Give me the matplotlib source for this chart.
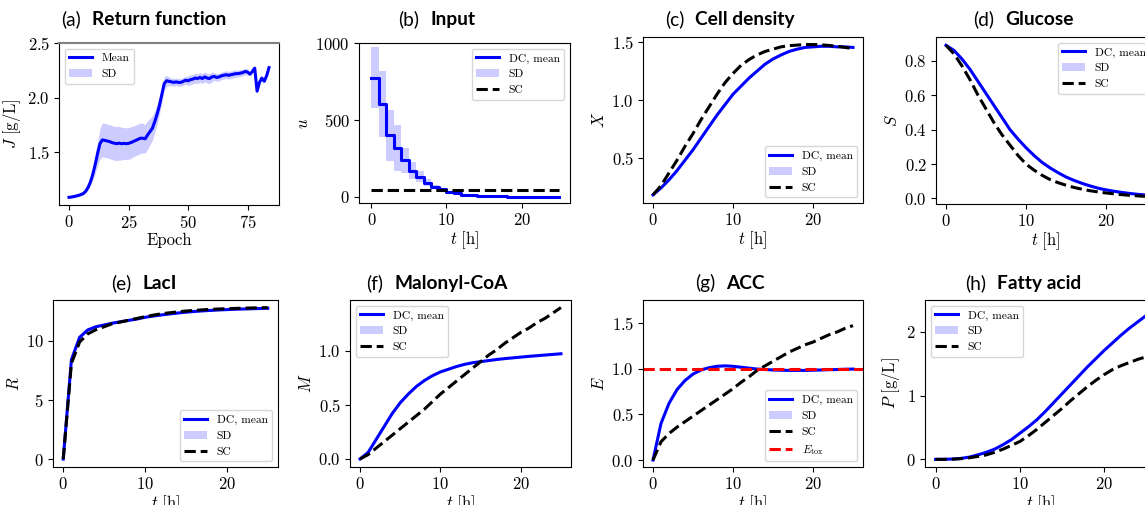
import numpy as np
import matplotlib
matplotlib.use("Agg")
import matplotlib.pyplot as plt
from matplotlib.offsetbox import TextArea, HPacker, AnchoredOffsetbox

plt.rcParams['font.family'] = 'serif'
plt.rcParams['font.serif'] = ['cmr10']
plt.rcParams['mathtext.fontset'] = 'cm'
plt.rcParams['axes.formatter.use_mathtext'] = True
plt.rcParams['axes.unicode_minus'] = False

# ---------------- data ----------------
epochs = list(range(85))
J_mean = [1.090, 1.093, 1.097, 1.102, 1.108, 1.115, 1.125, 1.145, 1.18, 1.23,
          1.30, 1.39, 1.49, 1.58, 1.615, 1.61, 1.605, 1.60, 1.59, 1.585,
          1.58, 1.585, 1.58, 1.583, 1.58, 1.583, 1.59, 1.60, 1.61, 1.62,
          1.63, 1.63, 1.625, 1.66, 1.69, 1.72, 1.78, 1.85, 1.93, 2.03,
          2.13, 2.155, 2.15, 2.145, 2.14, 2.145, 2.14, 2.14, 2.15, 2.16,
          2.155, 2.165, 2.17, 2.18, 2.175, 2.185, 2.175, 2.19, 2.18, 2.175,
          2.19, 2.195, 2.185, 2.19, 2.20, 2.205, 2.21, 2.205, 2.21, 2.215,
          2.22, 2.22, 2.225, 2.23, 2.24, 2.235, 2.215, 2.24, 2.27, 2.06,
          2.14, 2.18, 2.15, 2.20, 2.275]
J_sd = [0.01, 0.01, 0.01, 0.01, 0.01, 0.01, 0.012, 0.015, 0.02, 0.03,
        0.05, 0.08, 0.11, 0.14, 0.155, 0.155, 0.155, 0.155, 0.155, 0.155,
        0.155, 0.155, 0.15, 0.145, 0.145, 0.145, 0.145, 0.14, 0.14, 0.14,
        0.14, 0.135, 0.13, 0.13, 0.12, 0.11, 0.10, 0.09, 0.08, 0.07,
        0.06, 0.05, 0.04, 0.035, 0.035, 0.035, 0.035, 0.035, 0.035, 0.035,
        0.045, 0.045, 0.045, 0.045, 0.045, 0.045, 0.045, 0.045, 0.045, 0.045,
        0.045, 0.035, 0.035, 0.035, 0.035, 0.035, 0.035, 0.035, 0.035, 0.035,
        0.035, 0.03, 0.03, 0.03, 0.03, 0.03, 0.0, 0.0, 0.0, 0.0,
        0.0, 0.0, 0.0, 0.0, 0.0]

t = list(range(26))
u_dc = [775, 606, 400, 318, 238, 169, 130, 91, 65, 48, 33, 23, 15, 10, 7,
        5, 3.5, 2.5, 2, 1.5, 1, 1, 0.5, 0.5, 0.5, 0.5]
u_sd = [200, 214, 165, 150, 80, 55, 35, 22, 14, 10, 7, 5, 4, 3, 2, 2, 1, 1,
        1, 1, 0, 0, 0, 0, 0, 0]
u_sc = [42] * 26

X_dc = [0.18, 0.24, 0.31, 0.39, 0.48, 0.57, 0.67, 0.77, 0.87, 0.96, 1.05,
        1.12, 1.19, 1.25, 1.31, 1.355, 1.39, 1.42, 1.44, 1.455, 1.46, 1.465,
        1.465, 1.46, 1.46, 1.455]
X_sc = [0.18, 0.26, 0.37, 0.48, 0.60, 0.71, 0.83, 0.94, 1.05, 1.15, 1.23,
        1.30, 1.35, 1.39, 1.42, 1.44, 1.46, 1.47, 1.475, 1.48, 1.48, 1.478,
        1.472, 1.465, 1.455, 1.445]
X_sd = 0.005

S_dc = [0.89, 0.86, 0.81, 0.75, 0.68, 0.61, 0.54, 0.47, 0.40, 0.345, 0.295,
        0.25, 0.21, 0.178, 0.15, 0.125, 0.105, 0.088, 0.073, 0.06, 0.05,
        0.042, 0.035, 0.029, 0.024, 0.02]
S_sc = [0.89, 0.84, 0.77, 0.69, 0.60, 0.52, 0.44, 0.37, 0.31, 0.25, 0.20,
        0.165, 0.135, 0.11, 0.092, 0.077, 0.064, 0.054, 0.045, 0.038, 0.032,
        0.027, 0.022, 0.018, 0.015, 0.012]
S_sd = 0.004

R_dc = [0.0, 8.4, 10.3, 10.93, 11.2, 11.35, 11.5, 11.62, 11.74, 11.85, 12.0,
        12.1, 12.2, 12.28, 12.36, 12.43, 12.49, 12.54, 12.58, 12.62, 12.65,
        12.68, 12.70, 12.72, 12.74, 12.76]
R_sc = [0.0, 8.1, 9.9, 10.6, 10.95, 11.2, 11.45, 11.6, 11.75, 11.9, 12.05,
        12.18, 12.3, 12.38, 12.46, 12.53, 12.58, 12.63, 12.67, 12.7, 12.73,
        12.75, 12.77, 12.79, 12.8, 12.82]
R_sd = 0.03

M_dc = [0.0, 0.06, 0.18, 0.30, 0.42, 0.52, 0.60, 0.67, 0.725, 0.77, 0.805,
        0.83, 0.855, 0.875, 0.89, 0.90, 0.91, 0.92, 0.928, 0.935, 0.942,
        0.949, 0.955, 0.961, 0.967, 0.973]
M_sc = [0.0, 0.04, 0.10, 0.16, 0.22, 0.28, 0.34, 0.40, 0.46, 0.53, 0.60,
        0.66, 0.72, 0.78, 0.84, 0.90, 0.96, 1.01, 1.07, 1.12, 1.17, 1.21,
        1.26, 1.30, 1.35, 1.40]
M_sd = 0.004

E_dc = [0.0, 0.40, 0.62, 0.77, 0.87, 0.94, 0.985, 1.01, 1.025, 1.03, 1.025,
        1.015, 1.005, 0.995, 0.99, 0.985, 0.982, 0.98, 0.98, 0.98, 0.982,
        0.985, 0.988, 0.99, 0.993, 0.995]
E_sc = [0.0, 0.20, 0.29, 0.36, 0.42, 0.48, 0.54, 0.60, 0.66, 0.72, 0.78,
        0.85, 0.91, 0.98, 1.03, 1.08, 1.13, 1.18, 1.22, 1.26, 1.29, 1.33,
        1.37, 1.40, 1.44, 1.47]
E_sd = 0.008
E_tox = 1.0

P_dc = [0.0, 0.001, 0.005, 0.015, 0.035, 0.07, 0.11, 0.16, 0.23, 0.31, 0.41,
        0.51, 0.62, 0.75, 0.89, 1.03, 1.17, 1.31, 1.45, 1.58, 1.71, 1.83,
        1.95, 2.06, 2.16, 2.26]
P_sc = [0.0, 0.0, 0.003, 0.01, 0.025, 0.045, 0.07, 0.11, 0.16, 0.22, 0.28,
        0.37, 0.47, 0.58, 0.69, 0.80, 0.92, 1.03, 1.14, 1.24, 1.33, 1.41,
        1.47, 1.52, 1.57, 1.61]
P_sd = 0.005

titles = [("(a)", "Return function"), ("(b)", "Input"), ("(c)", "Cell density"),
          ("(d)", "Glucose"), ("(e)", "LacI"), ("(f)", "Malonyl-CoA"),
          ("(g)", "ACC"), ("(h)", "Fatty acid")]

# ---------------- layout ----------------
W, H = 1145, 505
fig = plt.figure(figsize=(W / 100, H / 100), dpi=100)

def add_ax(l, r, t_, b):
    return fig.add_axes([l / W, 1 - b / H, (r - l) / W, (b - t_) / H])

boxes = [(59, 279, 43, 205), (359, 570, 43, 203), (643, 863, 37, 203),
         (936, 1156, 37, 204), (53, 278, 300, 467), (350, 571, 300, 467),
         (643, 863, 300, 467), (925, 1157, 300, 467)]
axes = [add_ax(*b) for b in boxes]
title_pos = [(144, 19), (437, 19), (730, 19), (1023, 19),
             (144, 283), (437, 283), (730, 283), (1023, 283)]

BLUE = '#0000ff'
LW = 2.2
TICK_FS = 12
LAB_FS = 12
LEG_FS = 8.3

for ax in axes:
    ax.tick_params(labelsize=TICK_FS, pad=3)

TLAB = r'$t\ [\mathrm{h}]$'

def time_panel(ax, mean, sd, sc, ylabel, loc, yticks, extra=None):
    m = np.array(mean)
    ax.plot(t, m, color=BLUE, lw=LW, label='DC, mean')
    ax.fill_between(t, m - sd, m + sd, color=BLUE, alpha=0.2, lw=0, label='SD')
    ax.plot(t, sc, color='black', lw=LW, ls='--', label='SC')
    if extra is not None:
        extra(ax)
    ax.set_xlabel(TLAB, fontsize=LAB_FS, labelpad=1)
    ax.set_ylabel(ylabel, fontsize=LAB_FS, labelpad=3)
    ax.set_yticks(yticks)
    ax.set_xticks([0, 10, 20])
    ax.legend(loc=loc, fontsize=LEG_FS)

# (a)
ax = axes[0]
jm = np.array(J_mean); js = np.array(J_sd)
ax.plot(epochs, jm, color=BLUE, lw=LW, label='Mean')
ax.fill_between(epochs, jm - js, jm + js, color=BLUE, alpha=0.2, lw=0, label='SD')
ax.set_ylim(1.02, 2.5)
ax.set_yticks([1.5, 2.0, 2.5])
ax.set_xticks([0, 25, 50, 75])
ax.set_xlabel('Epoch', fontsize=LAB_FS, labelpad=1)
ax.set_ylabel(r'$J\ [\mathrm{g/L}]$', fontsize=LAB_FS, labelpad=3)
ax.spines['top'].set_color('0.5')
ax.spines['top'].set_linewidth(1.5)
ax.legend(loc='upper left', fontsize=LEG_FS)

# (b)
ax = axes[1]
um = np.array(u_dc, float); us = np.array(u_sd, float)
ax.step(t, um, where='post', color=BLUE, lw=LW, label='DC, mean')
ax.fill_between(t, um - us, um + us, step='post', color=BLUE, alpha=0.2, lw=0, label='SD')
ax.plot(t, u_sc, color='black', lw=LW, ls='--', label='SC')
ax.set_xlim(-1.65, 26.45)
ax.set_ylim(-40, 1000)
ax.set_yticks([0, 500, 1000])
ax.set_xticks([0, 10, 20])
ax.set_xlabel(TLAB, fontsize=LAB_FS, labelpad=1)
ax.set_ylabel(r'$u$', fontsize=LAB_FS, labelpad=3)
ax.legend(loc='upper right', fontsize=LEG_FS)

time_panel(axes[2], X_dc, X_sd, X_sc, r'$X$', 'lower right', [0.5, 1.0, 1.5])
time_panel(axes[3], S_dc, S_sd, S_sc, r'$S$', 'upper right', [0.0, 0.2, 0.4, 0.6, 0.8])
time_panel(axes[4], R_dc, R_sd, R_sc, r'$R$', 'lower right', [0, 5, 10])
time_panel(axes[5], M_dc, M_sd, M_sc, r'$M$', 'upper left', [0.0, 0.5, 1.0])

def etox(ax):
    ax.axhline(E_tox, color='red', lw=LW, ls='--', label=r'$E_{\rm tox}$')
time_panel(axes[6], E_dc, E_sd, E_sc, r'$E$', 'lower right', [0.0, 0.5, 1.0, 1.5], extra=etox)
axes[6].set_ylim(-0.076, 1.75)
time_panel(axes[7], P_dc, P_sd, P_sc, r'$P\ [\mathrm{g/L}]$', 'upper left', [0, 1, 2])
axes[7].set_ylim(-0.12, 2.5)

for (lab, name), (x, y) in zip(titles, title_pos):
    box = HPacker(children=[TextArea(lab, textprops=dict(family='Lato', fontsize=13.8)),
                            TextArea(name, textprops=dict(family='Lato', fontsize=13.8, weight='bold'))],
                  sep=8, align='baseline', pad=0)
    anc = AnchoredOffsetbox(loc='center', child=box, pad=0, borderpad=0, frameon=False,
                            bbox_to_anchor=(x / W, 1 - y / H), bbox_transform=fig.transFigure)
    fig.add_artist(anc)

fig.savefig('out.png', dpi=100)
